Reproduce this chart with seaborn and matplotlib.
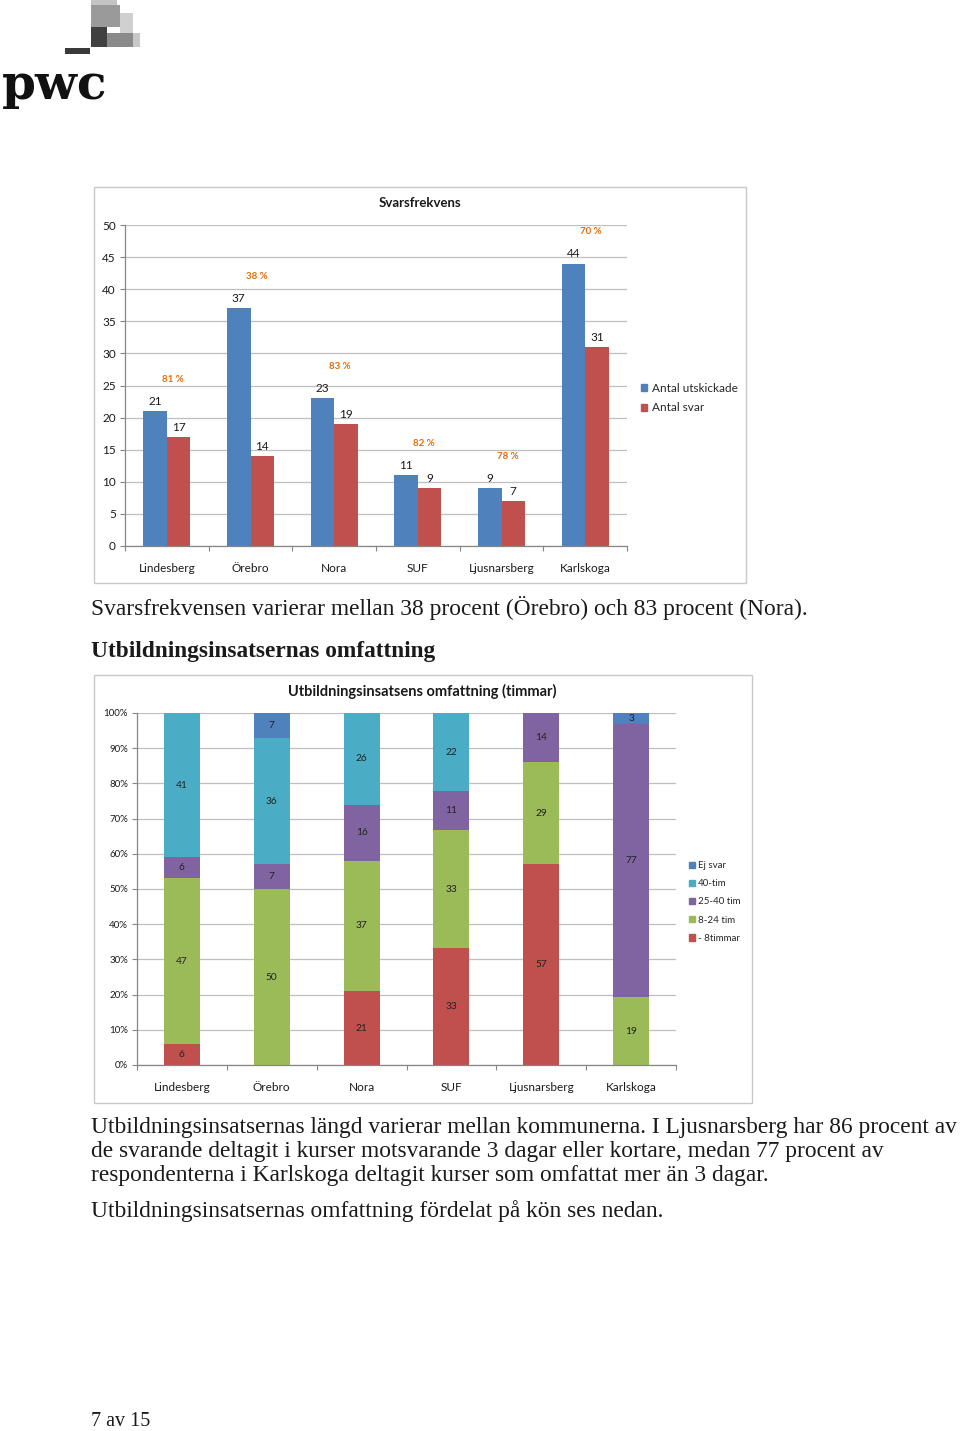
import matplotlib
matplotlib.use("Agg")
import matplotlib.pyplot as plt
from matplotlib.patches import Rectangle, Patch
import numpy as np
import pandas as pd
import seaborn as sns

# --- data ---
kommuner = ["Lindesberg", "Örebro", "Nora", "SUF", "Ljusnarsberg", "Karlskoga"]
utskickade = [21, 37, 23, 11, 9, 44]
svar = [17, 14, 19, 9, 7, 31]
svarsfrekvens = ["81 %", "38 %", "83 %", "82 %", "78 %", "70 %"]

# stacked shares, bottom -> top
omf_serier = ["- 8timmar", "8-24 tim", "25-40 tim", "40-tim", "Ej svar"]
under_8 = [6, 0, 21, 33, 57, 0]
tim_8_24 = [47, 50, 37, 33, 29, 19]
tim_25_40 = [6, 7, 16, 11, 14, 77]
tim_40 = [41, 36, 26, 22, 0, 0]
ej_svar = [0, 7, 0, 0, 0, 3]

BLUE = "#4F81BD"
RED = "#C0504D"
GREEN = "#9BBB59"
PURPLE = "#8064A2"
AQUA = "#4BACC6"
ORANGE = "#E46C0A"
GRID = "#BFBFBF"
TXT = "#1a1a1a"

sns.set_theme(style="white")
plt.rcParams["font.family"] = ["Lato", "DejaVu Sans"]

W, H = 960, 1431
fig = plt.figure(figsize=(W / 100, H / 100), dpi=100)

# page layer in pixel coordinates
page = fig.add_axes([0, 0, 1, 1])
page.set_xlim(0, W)
page.set_ylim(H, 0)
page.axis("off")


def fig_rect(x0, y0, x1, y1):
    return [x0 / W, (H - y1) / H, (x1 - x0) / W, (y1 - y0) / H]


# logo
for (x0, y0, x1, y1, c) in [
    (91, 0, 117, 13, "#c4c4c4"),
    (91, 5, 120, 27, "#9a9a9a"),
    (120, 13, 133, 33, "#d0d0d0"),
    (133, 33, 140, 47, "#c8c8c8"),
    (107, 33, 133, 47, "#8a8a8a"),
    (91, 27, 107, 47, "#404040"),
    (65, 48, 90, 54, "#3a3a3a"),
]:
    page.add_patch(Rectangle((x0, y0), x1 - x0, y1 - y0, color=c, lw=0))
page.text(2, 99, "pwc", fontsize=35, fontweight="bold", family="DejaVu Serif",
          color="#111111", va="baseline", ha="left")

# chart frames and titles
page.add_patch(Rectangle((94, 187), 652, 396, fill=False, ec="#C8C8C8", lw=1))
page.add_patch(Rectangle((94, 675), 658, 428, fill=False, ec="#C8C8C8", lw=1))
page.text(420, 203, "Svarsfrekvens", fontsize=9.5, fontweight="bold",
          ha="center", va="center", color=TXT)
page.text(422, 691, "Utbildningsinsatsens omfattning (timmar)", fontsize=10.5,
          fontweight="bold", ha="center", va="center", color=TXT)

serif = "Liberation Serif"
FS = 16.8
page.text(91, 608, "Svarsfrekvensen varierar mellan 38 procent (Örebro) och 83 procent (Nora).",
          fontsize=FS, family=serif, va="center", color=TXT)
page.text(91, 651, "Utbildningsinsatsernas omfattning", fontsize=FS, family=serif,
          fontweight="bold", va="center", color=TXT)
para = [
    "Utbildningsinsatsernas längd varierar mellan kommunerna. I Ljusnarsberg har 86 procent av",
    "de svarande deltagit i kurser motsvarande 3 dagar eller kortare, medan 77 procent av",
    "respondenterna i Karlskoga deltagit kurser som omfattat mer än 3 dagar.",
]
for i, line in enumerate(para):
    page.text(91, 1127 + 24 * i, line, fontsize=FS, family=serif, va="center", color=TXT)
page.text(91, 1211, "Utbildningsinsatsernas omfattning fördelat på kön ses nedan.",
          fontsize=FS, family=serif, va="center", color=TXT)
page.text(91, 1421, "7 av 15", fontsize=14.5, family=serif, va="center", color=TXT)

# --- chart 1: Svarsfrekvens ---
ax1 = fig.add_axes(fig_rect(125, 225, 627, 546))
df1 = pd.DataFrame({
    "Kommun": kommuner * 2,
    "Antal": utskickade + svar,
    "Serie": ["Antal utskickade"] * 6 + ["Antal svar"] * 6,
})
sns.barplot(data=df1, x="Kommun", y="Antal", hue="Serie", palette=[BLUE, RED],
            width=0.56, saturation=1, errorbar=None, legend=False, linewidth=0, ax=ax1)
for cont in ax1.containers:
    ax1.bar_label(cont, padding=3, fontsize=8.5, color=TXT)
for i, (u, s, p) in enumerate(zip(utskickade, svar, svarsfrekvens)):
    ax1.annotate(p, (i + 0.07, max(u, s)), xytext=(0, 23), textcoords="offset points",
                 ha="center", va="center", fontsize=7, fontweight="bold", color=ORANGE)
ax1.set_ylim(0, 50)
ax1.set_xlim(-0.5, 5.5)
ax1.set_yticks(range(0, 51, 5))
ax1.yaxis.grid(True, color=GRID, lw=0.9)
ax1.set_axisbelow(True)
ax1.set_xlabel("")
ax1.set_ylabel("")
for sp in ["top", "right"]:
    ax1.spines[sp].set_visible(False)
for sp in ["left", "bottom"]:
    ax1.spines[sp].set_color("#868686")
    ax1.spines[sp].set_linewidth(0.9)
ax1.tick_params(axis="y", left=True, length=3.5, width=0.8, color="#868686",
                labelsize=8.5, labelcolor=TXT, pad=3)
ax1.tick_params(axis="x", bottom=False, labelsize=8.5, labelcolor=TXT, pad=6)
ax1.set_xticks(np.arange(-0.5, 6, 1), minor=True)
ax1.tick_params(axis="x", which="minor", bottom=True, length=3.5, width=0.8, color="#868686")
ax1.legend(handles=[Patch(color=BLUE, label="Antal utskickade"),
                    Patch(color=RED, label="Antal svar")],
           loc="center left", bbox_to_anchor=(641 / W, 1 - 398 / H),
           bbox_transform=fig.transFigure, frameon=False, fontsize=8.5,
           handlelength=0.55, handleheight=0.55, handletextpad=0.35, labelspacing=0.75,
           borderaxespad=0, borderpad=0)

# --- chart 2: omfattning (100% stacked) ---
ax2 = fig.add_axes(fig_rect(137, 713, 676, 1065))
vals = np.array([under_8, tim_8_24, tim_25_40, tim_40, ej_svar], dtype=float)
pct = vals / vals.sum(axis=0) * 100
cum = np.cumsum(pct, axis=0)
colors2 = [RED, GREEN, PURPLE, AQUA, BLUE]
for k in range(len(omf_serier) - 1, -1, -1):
    sns.barplot(x=kommuner, y=cum[k], color=colors2[k], width=0.4, saturation=1,
                errorbar=None, linewidth=0, ax=ax2)
for k in range(len(omf_serier)):
    for i in range(len(kommuner)):
        if vals[k, i] > 0:
            mid = cum[k, i] - pct[k, i] / 2
            ax2.text(i, mid, f"{int(vals[k, i])}", ha="center", va="center",
                     fontsize=7.3, color="#222222")
ax2.set_ylim(0, 100)
ax2.set_xlim(-0.5, 5.5)
ax2.set_yticks(range(0, 101, 10))
ax2.set_yticklabels([f"{v}%" for v in range(0, 101, 10)])
ax2.yaxis.grid(True, color=GRID, lw=0.9)
ax2.set_axisbelow(True)
ax2.set_xlabel("")
ax2.set_ylabel("")
for sp in ["top", "right"]:
    ax2.spines[sp].set_visible(False)
for sp in ["left", "bottom"]:
    ax2.spines[sp].set_color("#868686")
    ax2.spines[sp].set_linewidth(0.9)
ax2.tick_params(axis="y", left=True, length=3.5, width=0.8, color="#868686",
                labelsize=7, labelcolor=TXT, pad=3)
ax2.tick_params(axis="x", bottom=False, labelsize=8.5, labelcolor=TXT, pad=6)
ax2.set_xticks(np.arange(-0.5, 6, 1), minor=True)
ax2.tick_params(axis="x", which="minor", bottom=True, length=3.5, width=0.8, color="#868686")
ax2.legend(handles=[Patch(color=c, label=l) for c, l in
                    zip(colors2[::-1], omf_serier[::-1])],
           loc="center left", bbox_to_anchor=(689 / W, 1 - 902 / H),
           bbox_transform=fig.transFigure, frameon=False, fontsize=7,
           handlelength=0.6, handleheight=0.6, handletextpad=0.35, labelspacing=0.95,
           borderaxespad=0, borderpad=0)

fig.savefig("out.png", dpi=100)
